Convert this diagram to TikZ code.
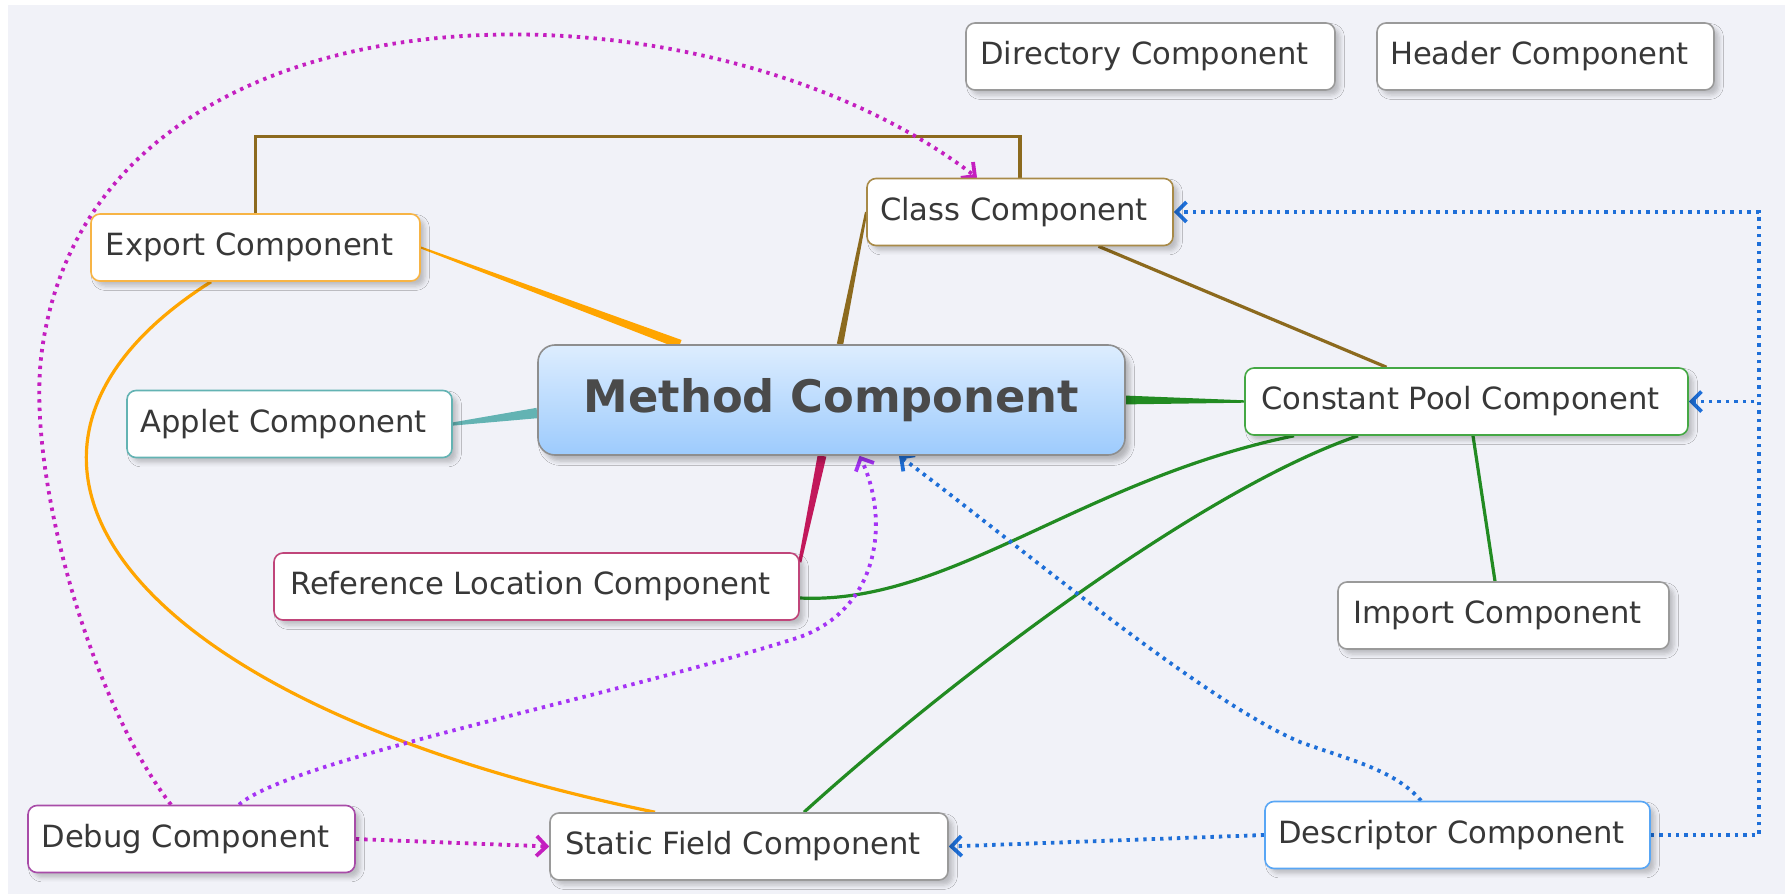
\documentclass[tikz,border=0pt]{standalone}
\usepackage{fontspec}
\setmainfont{DejaVu Sans}
\usetikzlibrary{arrows.meta,calc,backgrounds,shadows.blur}

\definecolor{canvas}{HTML}{F1F2F8}
\definecolor{txtgrey}{HTML}{383838}
\definecolor{plainborder}{HTML}{9A9A9A}
\definecolor{classbrown}{HTML}{8C6A1E}
\definecolor{classborder}{HTML}{A88A48}
\definecolor{exporange}{HTML}{FFA500}
\definecolor{expborder}{HTML}{F7B445}
\definecolor{appteal}{HTML}{63B3B3}
\definecolor{poolgreen}{HTML}{228B22}
\definecolor{poolborder}{HTML}{45A845}
\definecolor{refred}{HTML}{C2185B}
\definecolor{refborder}{HTML}{C0457A}
\definecolor{dbgborder}{HTML}{A84CA8}
\definecolor{dbgmagenta}{HTML}{C41FC0}
\definecolor{dbgviolet}{HTML}{A533F5}
\definecolor{descborder}{HTML}{58A6F5}
\definecolor{descblue}{HTML}{1E6FD8}
\definecolor{methtop}{HTML}{DDEDFE}
\definecolor{methbot}{HTML}{9DCBFD}
\definecolor{methborder}{HTML}{8E8E8E}
\definecolor{methtext}{HTML}{4A4A4A}

% tapered branch: from, to, half width at from, half width at to, colour
\newcommand{\taperedge}[5]{%
  \fill[#5] ($(#1)!#3!90:(#2)$) -- ($(#2)!#4!-90:(#1)$)
    -- ($(#2)!#4!90:(#1)$) -- ($(#1)!#3!-90:(#2)$) -- cycle;}

\begin{document}
\begin{tikzpicture}[
    x=0.5pt, y=-0.5pt,
    comp/.style={draw=#1, fill=white, rounded corners=4.5pt, line width=0.8pt,
      minimum height=33.5pt, inner xsep=6pt, text=txtgrey,
      font=\fontsize{15.3}{18}\selectfont,
      blur shadow={shadow xshift=2.5pt, shadow yshift=-2.5pt, shadow opacity=22},
      execute at end node={\hspace{6pt}}},
    methbox/.style={draw=methborder, line width=0.8pt, rounded corners=8.5pt,
      top color=methtop, bottom color=methbot, text=methtext,
      minimum width=293.5pt, minimum height=55pt,
      font=\fontsize{22.4}{26}\selectfont\bfseries,
      blur shadow={shadow xshift=2.5pt, shadow yshift=-3pt, shadow opacity=25}},
    link/.style={line width=1.6pt},
    dotlink/.style={line width=1.9pt, dash pattern=on 1.7pt off 2.5pt,
      -{Straight Barb[length=5pt,width=10pt]}}
  ]
  \useasboundingbox (0,0) rectangle (1785,894);

  % components
  \node[methbox] (meth) at (831.5,400) {Method Component};
  \node[comp=plainborder, minimum width=184.5pt] (dir) at (1150.5,56.5) {Directory Component};
  \node[comp=plainborder, minimum width=168.5pt] (hdr) at (1545.5,56.5) {Header Component};
  \node[comp=classborder, minimum width=153pt] (cls) at (1020,212) {Class Component};
  \node[comp=expborder, minimum width=164.5pt] (exp) at (255.5,247.5) {Export Component};
  \node[comp=poolborder, minimum width=221.5pt] (cp) at (1466.5,401.5) {Constant Pool Component};
  \node[comp=appteal, minimum width=162.5pt] (app) at (289.5,424) {Applet Component};
  \node[comp=refborder, minimum width=262.5pt] (ref) at (536.5,586.5) {Reference Location Component};
  \node[comp=plainborder, minimum width=165.5pt] (imp) at (1503.5,615.5) {Import Component};
  \node[comp=dbgborder, minimum width=163.5pt] (dbg) at (191.5,839) {Debug Component};
  \node[comp=plainborder, minimum width=199pt] (sf) at (749,846.5) {Static Field Component};
  \node[comp=descborder, minimum width=192.5pt] (desc) at (1457.5,835) {Descriptor Component};

  % branch ends on the method box
  \coordinate (mexp) at ([xshift=-75.75pt]meth.north);
  \coordinate (mcls) at ([xshift=4.25pt]meth.north);
  \coordinate (mapp) at ([yshift=-6.5pt]meth.west);
  \coordinate (mref) at ([xshift=-4.75pt]meth.south);
  \coordinate (rtop) at ([yshift=-5pt]ref.north east);

  \begin{scope}[on background layer]
    \fill[canvas] (8,5) rectangle (1785,894);

    \taperedge{mexp}{exp.east}{2.25pt}{0.5pt}{exporange}
    \taperedge{mcls}{cls.west}{1.6pt}{0.6pt}{classbrown}
    \taperedge{mapp}{app.east}{2.6pt}{0.8pt}{appteal}
    \taperedge{meth.east}{cp.west}{2.2pt}{0.6pt}{poolgreen}
    \taperedge{mref}{rtop}{2.2pt}{0.8pt}{refred}

    \draw[link, classbrown] (exp.north) -- ([yshift=38.5pt]exp.north) -| (cls.north);
    \draw[link, classbrown] ([xshift=39.25pt]cls.south) -- ([xshift=-40pt]cp.north);
    \draw[link, exporange] ([xshift=-22.25pt]exp.south)
      .. controls (-55,450) and (110,700) .. ([xshift=-47pt]sf.north);
    \draw[link, poolgreen] ([yshift=-5.75pt]ref.east)
      .. controls (950,605) and (1080,480) .. ([xshift=-86.25pt]cp.south);
    \draw[link, poolgreen] ([xshift=-54.25pt]cp.south)
      .. controls (1200,490) and (950,680) .. ([xshift=27.5pt]sf.north);
    \draw[link, poolgreen] ([xshift=3.25pt]cp.south) -- ([xshift=-4.25pt]imp.north);

    % dependencies of debug
    \draw[dotlink, dbgmagenta] ([xshift=-10.25pt]dbg.north)
      .. controls (90,700) and (25,470) .. (42,350)
      .. controls (95,-35) and (700,-35) .. ([xshift=-21.5pt]cls.north);
    \draw[dotlink, dbgviolet] ([xshift=23.75pt]dbg.north)
      .. controls (290,760) and (600,700) .. (797,638)
      .. controls (880,610) and (890,520) .. ([xshift=14pt]meth.south);
    \draw[dotlink, dbgmagenta] (dbg.east) -- (sf.west);

    % dependencies of descriptor
    \draw[dotlink, descblue] ([xshift=-18.25pt]desc.north)
      .. controls (1395,770) and (1350,760) .. (1300,742)
      .. controls (1200,700) and (1000,530) .. ([xshift=33.75pt]meth.south);
    \draw[dotlink, descblue] (desc.west) -- (sf.east);
    \draw[dotlink, descblue] (desc.east) -- ++(54pt,0) |- (cls.east);
    \draw[dotlink, descblue] (desc.east) -- ++(54pt,0) |- (cp.east);
  \end{scope}
\end{tikzpicture}
\end{document}
